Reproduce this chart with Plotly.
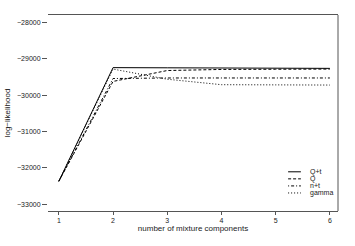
import plotly.graph_objects as go

components = [1, 2, 3, 4, 5, 6]
series_names = ["Q+t", "Q", "n+t", "gamma"]
qt_vals = [-32370, -29240, -29245, -29250, -29255, -29260]
q_vals = [-32370, -29620, -29320, -29290, -29285, -29280]
nt_vals = [-32370, -29540, -29525, -29525, -29525, -29525]
gamma_vals = [-32370, -29280, -29560, -29710, -29715, -29720]
y_ticks = [-28000, -29000, -30000, -31000, -32000, -33000]
y_tick_text = ["\u221228000", "\u221229000", "\u221230000", "\u221231000", "\u221232000", "\u221233000"]

styles = {"Q+t": "solid", "Q": "3px,2px", "n+t": "1px,2px,3px,2px", "gamma": "1px,2px"}
values = {"Q+t": qt_vals, "Q": q_vals, "n+t": nt_vals, "gamma": gamma_vals}

fig = go.Figure()
for name in series_names:
    fig.add_trace(go.Scatter(
        x=components, y=values[name], mode="lines", name=name, showlegend=False,
        hoverinfo="skip",
        line=dict(color="black", width=1, dash=styles[name]),
    ))

family = "Liberation Sans, Arial, sans-serif"
tick_font = dict(family=family, size=7, color="#222")
title_font = dict(family=family, size=8, color="#222")
legend_font = dict(family=family, size=7, color="#222")

# manual compact legend (paper coordinates)
shapes = [dict(type="line", xref="paper", yref="paper", x0=1, x1=1, y0=0, y1=1,
               line=dict(color="#555", width=1))]
annotations = []
legend_top = 0.2
legend_step = 0.036
for i, name in enumerate(series_names):
    yy = legend_top - i * legend_step
    shapes.append(dict(type="line", xref="paper", yref="paper", x0=0.828, x1=0.872,
                       y0=yy, y1=yy, line=dict(color="black", width=1, dash=styles[name])))
    annotations.append(dict(xref="paper", yref="paper", x=0.9, y=yy, text=name,
                            showarrow=False, xanchor="left", yanchor="middle",
                            font=legend_font, borderpad=0))

fig.update_layout(
    template="none",
    width=355, height=246,
    margin=dict(l=48, r=17, t=15, b=35),
    paper_bgcolor="white", plot_bgcolor="white",
    font=tick_font,
    showlegend=False,
    xaxis=dict(range=[0.8, 6.15], tickvals=components, ticktext=[str(c) for c in components],
               showgrid=False, zeroline=False, showline=True, mirror=True, automargin=False,
               linecolor="#555", linewidth=1, ticks="outside", ticklen=3, tickcolor="#555",
               tickfont=tick_font,
               title=dict(text="number of mixture components", font=title_font, standoff=1)),
    yaxis=dict(range=[-33190, -27790], tickvals=y_ticks, ticktext=y_tick_text,
               showgrid=False, zeroline=False, showline=False, automargin=False,
               ticks="outside", ticklen=5, tickcolor="#555", tickfont=tick_font,
               title=dict(text="log\u2212likelihood", font=title_font, standoff=5)),
    shapes=shapes,
    annotations=annotations,
)

fig.write_html("out.html", config={"displayModeBar": False},
               post_script="document.body.style.margin='0';")
